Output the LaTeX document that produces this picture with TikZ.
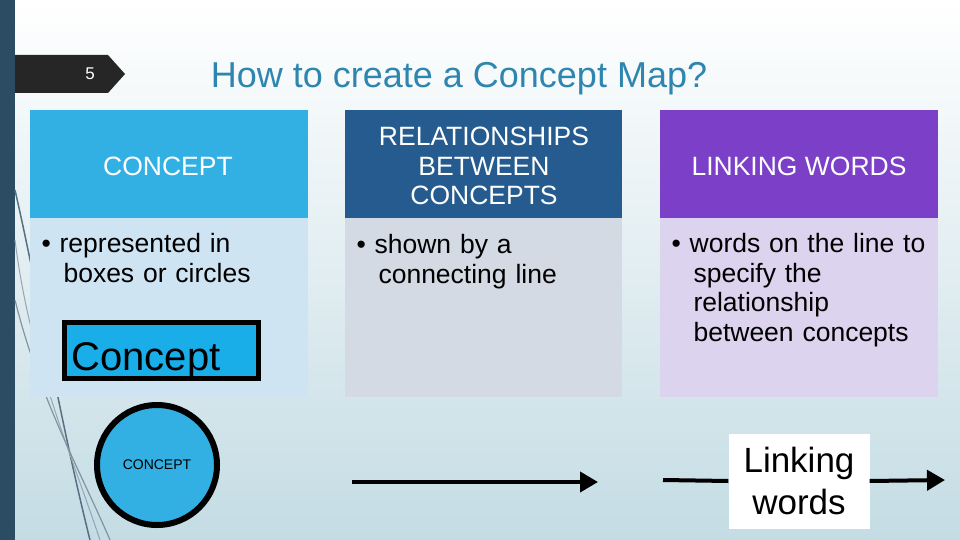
\documentclass[tikz,border=0pt]{standalone}
\usepackage{fontspec}
\setmainfont{Liberation Sans}
\usetikzlibrary{arrows.meta}
\definecolor{stripe}{HTML}{2B4C63}
\definecolor{titlec}{HTML}{2E86B0}
\definecolor{h1}{HTML}{33B0E3}\definecolor{b1}{HTML}{CFE4F3}
\definecolor{h2}{HTML}{255B8E}\definecolor{b2}{HTML}{D3DAE3}
\definecolor{h3}{HTML}{7B3FC8}\definecolor{b3}{HTML}{DCD3EF}
\definecolor{cbox}{HTML}{1AAEE8}
\tikzset{x=1pt,y=-1pt,
 hdr/.style={text=white,font=\fontsize{26.5}{29.5}\selectfont,align=center},
 bod/.style={font=\fontsize{26.5}{29.5}\selectfont,align=left,anchor=north west,text width=270pt},
 arr/.style={line width=4pt,-{Triangle[length=18pt,width=20pt]}}}
\begin{document}
\begin{tikzpicture}
\useasboundingbox (0,0) rectangle (960,540);
\shade[top color=white,bottom color={rgb,255:red,196;green,220;blue,228}] (0,0) rectangle (960,540);
\fill[stripe] (0,0) rectangle (15,540);
\draw[stripe!80,line width=1.5pt] (15,190) .. controls (40,300) and (60,420) .. (90,540);
\draw[stripe!50,line width=1pt] (15,240) .. controls (30,360) and (70,450) .. (100,540);
\draw[stripe!60,line width=1.2pt] (15,300) .. controls (40,400) and (80,470) .. (110,540);
\fill[black!85] (15,55) -- (108,55) -- (125,74) -- (108,93) -- (15,93) -- cycle;
\node[text=white,font=\fontsize{17}{20}\selectfont] (num) at (90,74) {5};
\node[text=titlec,font=\fontsize{36}{40}\selectfont] (title) at (459,79) {How to create a Concept Map?};
\fill[h1] (30,110) rectangle (308,218); \fill[b1] (30,218) rectangle (308,397);
\fill[h2] (345,110) rectangle (622,218); \fill[b2] (345,218) rectangle (622,397);
\fill[h3] (660,110) rectangle (938,218); \fill[b3] (660,218) rectangle (938,397);
\node[hdr] (c1) at (168,166) {CONCEPT};
\node[hdr] (c2) at (484,166) {RELATIONSHIPS\\BETWEEN\\CONCEPTS};
\node[hdr] (c3) at (799,166) {LINKING WORDS};
\node[bod] (t1) at (38,230) {\textbullet\ represented in\\\hspace*{22pt}boxes or circles};
\node[bod] (t2) at (353,231) {\textbullet\ shown by a\\\hspace*{22pt}connecting line};
\node[bod] (t3) at (668,230) {\textbullet\ words on the line to\\\hspace*{22pt}specify the\\\hspace*{22pt}relationship\\\hspace*{22pt}between concepts};
\draw[fill=cbox,line width=5pt] (64,322) rectangle (258,378);
\node[font=\fontsize{40}{44}\selectfont,anchor=west] (cb) at (68,361) {Concept};
\node[circle,fill=h1,draw=black,line width=6pt,minimum size=120pt,font=\fontsize{14}{16}\selectfont] (circ) at (157,465) {CONCEPT};
\coordinate (a1) at (352,482); \coordinate (a2) at (598,482);
\draw[arr] (a1) -- (a2);
\node[fill=white,minimum width=141pt,minimum height=95pt,align=center,font=\fontsize{35}{42}\selectfont] (lw) at (799,481) {Linking\\words};
\coordinate (l1) at (663,480); \coordinate (l2) at (945,480);
\draw[line width=4pt] (l1) -- (lw.west);
\draw[arr] (lw.east) -- (l2);
\end{tikzpicture}
\end{document}
